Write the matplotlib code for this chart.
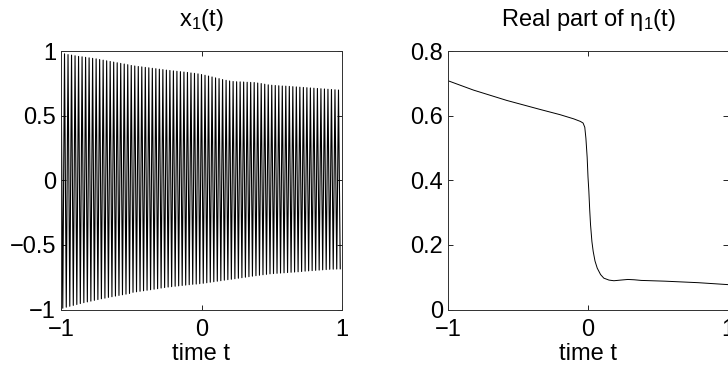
import numpy as np
import matplotlib
matplotlib.use('Agg')
import matplotlib.pyplot as plt

plt.rcParams['font.family'] = ['Liberation Sans', 'DejaVu Sans']
plt.rcParams['mathtext.fontset'] = 'custom'
plt.rcParams['mathtext.rm'] = 'Liberation Sans'
plt.rcParams['mathtext.it'] = 'Liberation Sans'
plt.rcParams['mathtext.default'] = 'rm'

# x_1(t): fast oscillation, peak (upper) and trough (lower) values read per cycle
n_cycles = 80
peak_vals = [0.985, 0.978, 0.972, 0.968, 0.963, 0.958, 0.955, 0.951, 0.947, 0.943,
             0.939, 0.934, 0.929, 0.924, 0.919, 0.914, 0.909, 0.904, 0.899, 0.894,
             0.888, 0.884, 0.880, 0.877, 0.873, 0.870, 0.866, 0.863, 0.859, 0.856,
             0.852, 0.849, 0.846, 0.843, 0.840, 0.837, 0.834, 0.830, 0.827, 0.823,
             0.818, 0.812, 0.806, 0.799, 0.792, 0.786, 0.779, 0.773, 0.768, 0.764,
             0.762, 0.761, 0.760, 0.758, 0.757, 0.756, 0.752, 0.748, 0.743, 0.738,
             0.735, 0.733, 0.731, 0.729, 0.728, 0.726, 0.724, 0.722, 0.720, 0.718,
             0.716, 0.714, 0.712, 0.710, 0.708, 0.706, 0.704, 0.702, 0.700, 0.698]
trough_vals = [-0.990, -0.982, -0.975, -0.968, -0.961, -0.954, -0.947, -0.941, -0.935, -0.929,
               -0.923, -0.917, -0.912, -0.906, -0.901, -0.896, -0.891, -0.886, -0.881, -0.876,
               -0.867, -0.863, -0.859, -0.855, -0.851, -0.847, -0.843, -0.839, -0.834, -0.830,
               -0.826, -0.823, -0.820, -0.817, -0.814, -0.811, -0.808, -0.805, -0.803, -0.800,
               -0.797, -0.793, -0.789, -0.785, -0.781, -0.777, -0.773, -0.769, -0.766, -0.762,
               -0.758, -0.754, -0.750, -0.746, -0.742, -0.738, -0.735, -0.731, -0.728, -0.724,
               -0.722, -0.720, -0.718, -0.716, -0.714, -0.712, -0.710, -0.708, -0.706, -0.703,
               -0.701, -0.699, -0.697, -0.695, -0.693, -0.691, -0.689, -0.688, -0.687, -0.685]

# real part of eta_1(t)
eta_t = [-1.0, -0.818, -0.58, -0.341, -0.20, -0.102, -0.054, -0.035, -0.023, -0.015,
         -0.006, 0.0, 0.006, 0.012, 0.018, 0.028, 0.037, 0.05, 0.066, 0.09,
         0.113, 0.15, 0.185, 0.233, 0.285, 0.33, 0.38, 0.548, 0.787, 1.0]
eta_re = [0.708, 0.679, 0.647, 0.619, 0.603, 0.590, 0.582, 0.577, 0.564, 0.530,
          0.471, 0.410, 0.367, 0.310, 0.263, 0.210, 0.180, 0.150, 0.128, 0.108,
          0.097, 0.091, 0.089, 0.091, 0.093, 0.092, 0.090, 0.0877, 0.083, 0.077]

# build the zigzag: peak then trough each cycle
t_peak = -1 + 2 * np.arange(n_cycles) / n_cycles
t_x = np.empty(2 * n_cycles)
x_vals = np.empty(2 * n_cycles)
t_x[0::2] = t_peak
t_x[1::2] = t_peak + 1.0 / n_cycles
x_vals[0::2] = peak_vals
x_vals[1::2] = trough_vals

fs = 17
fig = plt.figure(figsize=(7.28, 3.68), dpi=100)
ax1 = fig.add_axes([61/728, 1 - 309.5/368, 281/728, 258.5/368])
ax2 = fig.add_axes([448/728, 1 - 309.5/368, 280/728, 258.5/368])

ax1.plot(t_x, x_vals, color='black', lw=0.8)
ax1.set_xlim(-1, 1)
ax1.set_ylim(-1, 1)
ax1.set_xticks([-1, 0, 1])
ax1.set_yticks([-1, -0.5, 0, 0.5, 1])
ax1.set_yticklabels(['\u22121', '\u22120.5', '0', '0.5', '1'])
ax1.set_title('x$_1$(t)', fontsize=fs, pad=18)

ax2.plot(eta_t, eta_re, color='black', lw=0.7)
ax2.set_xlim(-1, 1)
ax2.set_ylim(0, 0.8)
ax2.set_xticks([-1, 0, 1])
ax2.set_yticks([0, 0.2, 0.4, 0.6, 0.8])
ax2.set_yticklabels(['0', '0.2', '0.4', '0.6', '0.8'])
ax2.set_title('Real part of \u03b7$_1$(t)', fontsize=fs, pad=18)

for ax in (ax1, ax2):
    ax.set_xticklabels(['\u22121', '0', '1'])
    ax.set_xlabel('time t', fontsize=fs, labelpad=1)
    ax.tick_params(direction='in', length=3.5, width=0.6, labelsize=fs,
                   top=True, right=True)
    ax.tick_params(axis='x', pad=7)
    ax.tick_params(axis='y', pad=3.5)
    for s in ax.spines.values():
        s.set_linewidth(0.7)
        s.set_color('#303030')

fig.savefig('out.png', dpi=100)
